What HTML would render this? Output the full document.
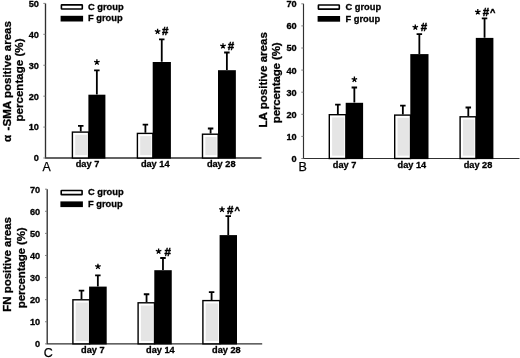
<!DOCTYPE html>
<html><head><meta charset="utf-8"><title>Figure</title>
<style>
html,body{margin:0;padding:0;background:#fff;}
svg{display:block;font-family:"Liberation Sans", sans-serif;fill:#000;filter:blur(0.45px);}
</style></head>
<body>
<svg width="520" height="358" viewBox="0 0 520 358">
<rect width="520" height="358" fill="#fff"/>
<path d="M45.50 3.40V158.00H261.50" fill="none" stroke="#303030" stroke-width="1.35"/>
<path d="M43.30 158.00H45.50" stroke="#777" stroke-width="0.9"/>
<text x="38.90" y="161.40" font-size="9.2" font-weight="bold" text-anchor="end" stroke="#000" stroke-width="0.3" >0</text>
<path d="M43.30 127.08H45.50" stroke="#777" stroke-width="0.9"/>
<text x="38.90" y="130.48" font-size="9.2" font-weight="bold" text-anchor="end" stroke="#000" stroke-width="0.3" >10</text>
<path d="M43.30 96.16H45.50" stroke="#777" stroke-width="0.9"/>
<text x="38.90" y="99.56" font-size="9.2" font-weight="bold" text-anchor="end" stroke="#000" stroke-width="0.3" >20</text>
<path d="M43.30 65.24H45.50" stroke="#777" stroke-width="0.9"/>
<text x="38.90" y="68.64" font-size="9.2" font-weight="bold" text-anchor="end" stroke="#000" stroke-width="0.3" >30</text>
<path d="M43.30 34.32H45.50" stroke="#777" stroke-width="0.9"/>
<text x="38.90" y="37.72" font-size="9.2" font-weight="bold" text-anchor="end" stroke="#000" stroke-width="0.3" >40</text>
<path d="M43.30 3.40H45.50" stroke="#777" stroke-width="0.9"/>
<text x="38.90" y="6.80" font-size="9.2" font-weight="bold" text-anchor="end" stroke="#000" stroke-width="0.3" >50</text>
<text x="0.00" y="0.00" font-size="11.5" font-weight="bold" text-anchor="start" stroke="#000" stroke-width="0.3" transform="translate(10.90 142.10) rotate(-90)">α</text>
<text x="0.00" y="0.00" font-size="11.5" font-weight="bold" text-anchor="end" stroke="#000" stroke-width="0.3" textLength="109.3" lengthAdjust="spacing" transform="translate(10.90 21.10) rotate(-90)">-SMA positive areas</text>
<text x="0.00" y="0.00" font-size="11.5" font-weight="bold" text-anchor="middle" stroke="#000" stroke-width="0.3" textLength="83.1" lengthAdjust="spacing" transform="translate(23.40 80.05) rotate(-90)">percentage (%)</text>
<rect x="61.40" y="4.85" width="20.9" height="4.1" rx="0.5" fill="#fff" stroke="#000" stroke-width="1.6"/>
<rect x="60.60" y="15.80" width="22.5" height="5.7" fill="#000"/>
<text x="88.00" y="10.10" font-size="9.3" font-weight="bold" text-anchor="start" stroke="#000" stroke-width="0.3" >C group</text>
<text x="88.00" y="21.40" font-size="9.3" font-weight="bold" text-anchor="start" stroke="#000" stroke-width="0.3" >F group</text>
<text x="42.50" y="171.30" font-size="12.3" font-weight="normal" text-anchor="start"  stroke="#000" stroke-width="0.25">A</text>
<rect x="72.40" y="132.10" width="16.20" height="25.90" fill="#fff" stroke="#000" stroke-width="1.4"/>
<rect x="75.20" y="134.80" width="11.80" height="20.40" fill="#e5e5e5"/>
<path d="M80.75 131.40V125.90M78.00 125.90H83.50" stroke="#000" stroke-width="1.8" fill="none"/>
<rect x="88.40" y="94.70" width="17.00" height="63.90" fill="#000"/>
<path d="M96.85 94.50V70.40M94.10 70.40H99.60" stroke="#000" stroke-width="1.8" fill="none"/>
<text x="87.50" y="167.30" font-size="9.2" font-weight="bold" text-anchor="middle" stroke="#000" stroke-width="0.3" >day 7</text>
<path d="M96.90 62.18L96.90 59.28M96.90 62.18L94.14 61.28M96.90 62.18L95.20 64.52M96.90 62.18L98.60 64.52M96.90 62.18L99.66 61.28" stroke="#000" stroke-width="1.3" fill="none"/>
<circle cx="96.90" cy="62.18" r="0.9" fill="#000"/>
<rect x="137.40" y="133.40" width="15.50" height="24.60" fill="#fff" stroke="#000" stroke-width="1.4"/>
<rect x="140.20" y="136.10" width="11.10" height="19.10" fill="#e5e5e5"/>
<path d="M145.40 132.70V124.60M142.65 124.60H148.15" stroke="#000" stroke-width="1.8" fill="none"/>
<rect x="152.70" y="62.00" width="18.20" height="96.60" fill="#000"/>
<path d="M161.75 61.80V39.40M159.00 39.40H164.50" stroke="#000" stroke-width="1.8" fill="none"/>
<text x="155.20" y="167.30" font-size="9.2" font-weight="bold" text-anchor="middle" stroke="#000" stroke-width="0.3" >day 14</text>
<path d="M157.60 31.58L157.60 28.68M157.60 31.58L154.84 30.68M157.60 31.58L155.90 33.92M157.60 31.58L159.30 33.92M157.60 31.58L160.36 30.68" stroke="#000" stroke-width="1.3" fill="none"/>
<circle cx="157.60" cy="31.58" r="0.9" fill="#000"/>
<text x="161.90" y="35.42" font-size="11.5" font-weight="bold" stroke="#000" stroke-width="0.45">#</text>
<rect x="202.50" y="134.20" width="15.70" height="23.80" fill="#fff" stroke="#000" stroke-width="1.4"/>
<rect x="205.30" y="136.90" width="11.30" height="18.30" fill="#e5e5e5"/>
<path d="M210.60 133.50V128.50M207.85 128.50H213.35" stroke="#000" stroke-width="1.8" fill="none"/>
<rect x="218.00" y="70.20" width="17.85" height="88.40" fill="#000"/>
<path d="M226.88 70.00V52.50M224.12 52.50H229.62" stroke="#000" stroke-width="1.8" fill="none"/>
<text x="221.20" y="167.30" font-size="9.2" font-weight="bold" text-anchor="middle" stroke="#000" stroke-width="0.3" >day 28</text>
<path d="M223.00 46.08L223.00 43.18M223.00 46.08L220.24 45.18M223.00 46.08L221.30 48.42M223.00 46.08L224.70 48.42M223.00 46.08L225.76 45.18" stroke="#000" stroke-width="1.3" fill="none"/>
<circle cx="223.00" cy="46.08" r="0.9" fill="#000"/>
<text x="227.70" y="49.92" font-size="11.5" font-weight="bold" stroke="#000" stroke-width="0.45">#</text>
<path d="M303.50 3.80V158.50H519.50" fill="none" stroke="#303030" stroke-width="1.15"/>
<path d="M301.30 158.50H303.50" stroke="#777" stroke-width="0.9"/>
<text x="296.70" y="161.90" font-size="9.2" font-weight="bold" text-anchor="end" stroke="#000" stroke-width="0.3" >0</text>
<path d="M301.30 136.40H303.50" stroke="#777" stroke-width="0.9"/>
<text x="296.70" y="139.80" font-size="9.2" font-weight="bold" text-anchor="end" stroke="#000" stroke-width="0.3" >10</text>
<path d="M301.30 114.30H303.50" stroke="#777" stroke-width="0.9"/>
<text x="296.70" y="117.70" font-size="9.2" font-weight="bold" text-anchor="end" stroke="#000" stroke-width="0.3" >20</text>
<path d="M301.30 92.20H303.50" stroke="#777" stroke-width="0.9"/>
<text x="296.70" y="95.60" font-size="9.2" font-weight="bold" text-anchor="end" stroke="#000" stroke-width="0.3" >30</text>
<path d="M301.30 70.10H303.50" stroke="#777" stroke-width="0.9"/>
<text x="296.70" y="73.50" font-size="9.2" font-weight="bold" text-anchor="end" stroke="#000" stroke-width="0.3" >40</text>
<path d="M301.30 48.00H303.50" stroke="#777" stroke-width="0.9"/>
<text x="296.70" y="51.40" font-size="9.2" font-weight="bold" text-anchor="end" stroke="#000" stroke-width="0.3" >50</text>
<path d="M301.30 25.90H303.50" stroke="#777" stroke-width="0.9"/>
<text x="296.70" y="29.30" font-size="9.2" font-weight="bold" text-anchor="end" stroke="#000" stroke-width="0.3" >60</text>
<path d="M301.30 3.80H303.50" stroke="#777" stroke-width="0.9"/>
<text x="296.70" y="7.20" font-size="9.2" font-weight="bold" text-anchor="end" stroke="#000" stroke-width="0.3" >70</text>
<text x="0.00" y="0.00" font-size="11.5" font-weight="bold" text-anchor="middle" stroke="#000" stroke-width="0.3" textLength="95.3" lengthAdjust="spacing" transform="translate(267.20 79.80) rotate(-90)">LA positive areas</text>
<text x="0.00" y="0.00" font-size="11.5" font-weight="bold" text-anchor="middle" stroke="#000" stroke-width="0.3" textLength="80.9" lengthAdjust="spacing" transform="translate(279.60 82.80) rotate(-90)">percentage (%)</text>
<rect x="318.40" y="5.05" width="20.9" height="4.1" rx="0.5" fill="#fff" stroke="#000" stroke-width="1.6"/>
<rect x="317.60" y="16.00" width="22.5" height="5.7" fill="#000"/>
<text x="345.50" y="10.30" font-size="9.3" font-weight="bold" text-anchor="start" stroke="#000" stroke-width="0.3" >C group</text>
<text x="345.50" y="21.60" font-size="9.3" font-weight="bold" text-anchor="start" stroke="#000" stroke-width="0.3" >F group</text>
<text x="298.60" y="171.30" font-size="12.5" font-weight="normal" text-anchor="start"  stroke="#000" stroke-width="0.25">B</text>
<rect x="329.30" y="114.70" width="16.60" height="43.80" fill="#fff" stroke="#000" stroke-width="1.4"/>
<rect x="332.10" y="117.40" width="12.20" height="38.30" fill="#e5e5e5"/>
<path d="M337.85 114.00V104.60M335.10 104.60H340.60" stroke="#000" stroke-width="1.8" fill="none"/>
<rect x="345.70" y="102.80" width="17.40" height="56.30" fill="#000"/>
<path d="M354.35 102.60V87.50M351.60 87.50H357.10" stroke="#000" stroke-width="1.8" fill="none"/>
<text x="344.60" y="167.80" font-size="9.2" font-weight="bold" text-anchor="middle" stroke="#000" stroke-width="0.3" >day 7</text>
<path d="M354.40 79.48L354.40 76.58M354.40 79.48L351.64 78.58M354.40 79.48L352.70 81.82M354.40 79.48L356.10 81.82M354.40 79.48L357.16 78.58" stroke="#000" stroke-width="1.3" fill="none"/>
<circle cx="354.40" cy="79.48" r="0.9" fill="#000"/>
<rect x="394.70" y="115.10" width="15.80" height="43.40" fill="#fff" stroke="#000" stroke-width="1.4"/>
<rect x="397.50" y="117.80" width="11.40" height="37.90" fill="#e5e5e5"/>
<path d="M402.85 114.40V105.60M400.10 105.60H405.60" stroke="#000" stroke-width="1.8" fill="none"/>
<rect x="410.30" y="54.10" width="18.20" height="105.00" fill="#000"/>
<path d="M419.35 53.90V34.20M416.60 34.20H422.10" stroke="#000" stroke-width="1.8" fill="none"/>
<text x="411.90" y="167.80" font-size="9.2" font-weight="bold" text-anchor="middle" stroke="#000" stroke-width="0.3" >day 14</text>
<path d="M415.30 27.38L415.30 24.48M415.30 27.38L412.54 26.48M415.30 27.38L413.60 29.72M415.30 27.38L417.00 29.72M415.30 27.38L418.06 26.48" stroke="#000" stroke-width="1.3" fill="none"/>
<circle cx="415.30" cy="27.38" r="0.9" fill="#000"/>
<text x="420.70" y="31.42" font-size="11.5" font-weight="bold" stroke="#000" stroke-width="0.45">#</text>
<rect x="460.10" y="116.80" width="15.90" height="41.70" fill="#fff" stroke="#000" stroke-width="1.4"/>
<rect x="462.90" y="119.50" width="11.50" height="36.20" fill="#e5e5e5"/>
<path d="M468.30 116.10V107.50M465.55 107.50H471.05" stroke="#000" stroke-width="1.8" fill="none"/>
<rect x="475.80" y="37.90" width="17.60" height="121.20" fill="#000"/>
<path d="M484.55 37.70V18.30M481.80 18.30H487.30" stroke="#000" stroke-width="1.8" fill="none"/>
<text x="478.00" y="167.80" font-size="9.2" font-weight="bold" text-anchor="middle" stroke="#000" stroke-width="0.3" >day 28</text>
<path d="M477.80 11.98L477.80 9.08M477.80 11.98L475.04 11.08M477.80 11.98L476.10 14.32M477.80 11.98L479.50 14.32M477.80 11.98L480.56 11.08" stroke="#000" stroke-width="1.3" fill="none"/>
<circle cx="477.80" cy="11.98" r="0.9" fill="#000"/>
<text x="482.80" y="15.82" font-size="11.5" font-weight="bold" stroke="#000" stroke-width="0.45">#</text>
<text x="490.01" y="14.82" font-size="9.2" font-weight="bold" stroke="#000" stroke-width="0.45">^</text>
<path d="M47.20 189.20V343.85H262.20" fill="none" stroke="#303030" stroke-width="1.35"/>
<path d="M45.00 343.85H47.20" stroke="#777" stroke-width="0.9"/>
<text x="40.20" y="347.25" font-size="9.2" font-weight="bold" text-anchor="end" stroke="#000" stroke-width="0.3" >0</text>
<path d="M45.00 321.76H47.20" stroke="#777" stroke-width="0.9"/>
<text x="40.20" y="325.16" font-size="9.2" font-weight="bold" text-anchor="end" stroke="#000" stroke-width="0.3" >10</text>
<path d="M45.00 299.66H47.20" stroke="#777" stroke-width="0.9"/>
<text x="40.20" y="303.06" font-size="9.2" font-weight="bold" text-anchor="end" stroke="#000" stroke-width="0.3" >20</text>
<path d="M45.00 277.57H47.20" stroke="#777" stroke-width="0.9"/>
<text x="40.20" y="280.97" font-size="9.2" font-weight="bold" text-anchor="end" stroke="#000" stroke-width="0.3" >30</text>
<path d="M45.00 255.48H47.20" stroke="#777" stroke-width="0.9"/>
<text x="40.20" y="258.88" font-size="9.2" font-weight="bold" text-anchor="end" stroke="#000" stroke-width="0.3" >40</text>
<path d="M45.00 233.39H47.20" stroke="#777" stroke-width="0.9"/>
<text x="40.20" y="236.79" font-size="9.2" font-weight="bold" text-anchor="end" stroke="#000" stroke-width="0.3" >50</text>
<path d="M45.00 211.29H47.20" stroke="#777" stroke-width="0.9"/>
<text x="40.20" y="214.69" font-size="9.2" font-weight="bold" text-anchor="end" stroke="#000" stroke-width="0.3" >60</text>
<path d="M45.00 189.20H47.20" stroke="#777" stroke-width="0.9"/>
<text x="40.20" y="192.60" font-size="9.2" font-weight="bold" text-anchor="end" stroke="#000" stroke-width="0.3" >70</text>
<text x="0.00" y="0.00" font-size="11.5" font-weight="bold" text-anchor="middle" stroke="#000" stroke-width="0.3" textLength="94.6" lengthAdjust="spacing" transform="translate(10.80 264.35) rotate(-90)">FN positive areas</text>
<text x="0.00" y="0.00" font-size="11.5" font-weight="bold" text-anchor="middle" stroke="#000" stroke-width="0.3" textLength="80.9" lengthAdjust="spacing" transform="translate(24.60 267.80) rotate(-90)">percentage (%)</text>
<rect x="61.20" y="190.55" width="20.9" height="4.1" rx="0.5" fill="#fff" stroke="#000" stroke-width="1.6"/>
<rect x="60.40" y="201.40" width="22.5" height="5.7" fill="#000"/>
<text x="88.00" y="195.40" font-size="9.3" font-weight="bold" text-anchor="start" stroke="#000" stroke-width="0.3" >C group</text>
<text x="88.00" y="207.00" font-size="9.3" font-weight="bold" text-anchor="start" stroke="#000" stroke-width="0.3" >F group</text>
<text x="43.70" y="357.40" font-size="12.5" font-weight="normal" text-anchor="start"  stroke="#000" stroke-width="0.25">C</text>
<rect x="72.90" y="299.80" width="16.70" height="44.05" fill="#fff" stroke="#000" stroke-width="1.4"/>
<rect x="75.70" y="302.50" width="12.30" height="38.55" fill="#e5e5e5"/>
<path d="M81.50 299.10V290.60M78.75 290.60H84.25" stroke="#000" stroke-width="1.8" fill="none"/>
<rect x="89.10" y="286.60" width="17.60" height="57.85" fill="#000"/>
<path d="M97.85 286.40V275.30M95.10 275.30H100.60" stroke="#000" stroke-width="1.8" fill="none"/>
<text x="92.80" y="353.45" font-size="9.2" font-weight="bold" text-anchor="middle" stroke="#000" stroke-width="0.3" >day 7</text>
<path d="M97.95 266.58L97.95 263.68M97.95 266.58L95.19 265.68M97.95 266.58L96.25 268.92M97.95 266.58L99.65 268.92M97.95 266.58L100.71 265.68" stroke="#000" stroke-width="1.3" fill="none"/>
<circle cx="97.95" cy="266.58" r="0.9" fill="#000"/>
<rect x="138.10" y="302.80" width="16.40" height="41.05" fill="#fff" stroke="#000" stroke-width="1.4"/>
<rect x="140.90" y="305.50" width="12.00" height="35.55" fill="#e5e5e5"/>
<path d="M146.55 302.10V294.25M143.80 294.25H149.30" stroke="#000" stroke-width="1.8" fill="none"/>
<rect x="154.30" y="270.20" width="17.45" height="74.25" fill="#000"/>
<path d="M162.97 270.00V258.00M160.22 258.00H165.72" stroke="#000" stroke-width="1.8" fill="none"/>
<text x="160.40" y="353.45" font-size="9.2" font-weight="bold" text-anchor="middle" stroke="#000" stroke-width="0.3" >day 14</text>
<path d="M158.60 251.38L158.60 248.48M158.60 251.38L155.84 250.48M158.60 251.38L156.90 253.72M158.60 251.38L160.30 253.72M158.60 251.38L161.36 250.48" stroke="#000" stroke-width="1.3" fill="none"/>
<circle cx="158.60" cy="251.38" r="0.9" fill="#000"/>
<text x="164.50" y="255.62" font-size="11.5" font-weight="bold" stroke="#000" stroke-width="0.45">#</text>
<rect x="202.90" y="300.60" width="16.90" height="43.25" fill="#fff" stroke="#000" stroke-width="1.4"/>
<rect x="205.70" y="303.30" width="12.50" height="37.75" fill="#e5e5e5"/>
<path d="M211.60 299.90V292.10M208.85 292.10H214.35" stroke="#000" stroke-width="1.8" fill="none"/>
<rect x="219.60" y="235.10" width="17.40" height="109.35" fill="#000"/>
<path d="M228.25 234.90V216.20M225.50 216.20H231.00" stroke="#000" stroke-width="1.8" fill="none"/>
<text x="226.40" y="353.45" font-size="9.2" font-weight="bold" text-anchor="middle" stroke="#000" stroke-width="0.3" >day 28</text>
<path d="M222.00 209.48L222.00 206.58M222.00 209.48L219.24 208.58M222.00 209.48L220.30 211.82M222.00 209.48L223.70 211.82M222.00 209.48L224.76 208.58" stroke="#000" stroke-width="1.3" fill="none"/>
<circle cx="222.00" cy="209.48" r="0.9" fill="#000"/>
<text x="226.90" y="213.62" font-size="11.5" font-weight="bold" stroke="#000" stroke-width="0.45">#</text>
<text x="234.61" y="212.82" font-size="9.2" font-weight="bold" stroke="#000" stroke-width="0.45">^</text>
</svg>
</body></html>
